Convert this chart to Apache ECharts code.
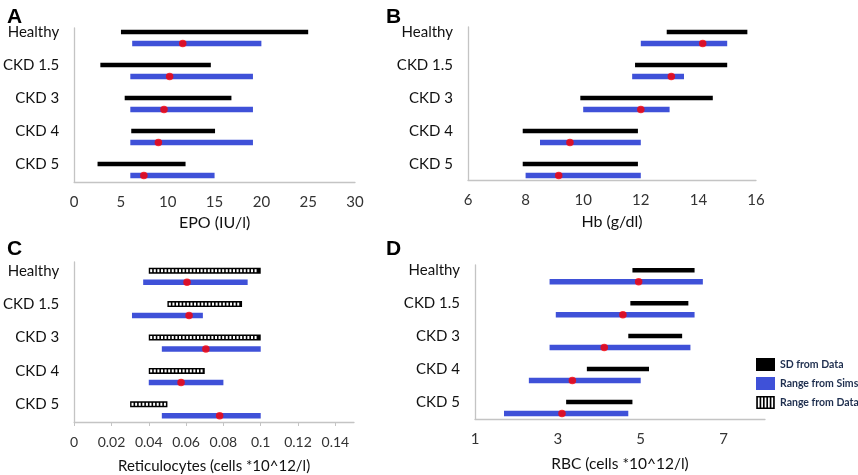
<!DOCTYPE html>
<html>
<head>
<meta charset="utf-8">
<script src="https://cdn.jsdelivr.net/npm/echarts@6/dist/echarts.min.js"></script>
<style>
  html, body { margin: 0; background: #fff; }
  #chart { width: 858px; height: 475px; }
</style>
</head>
<body>
<div id="chart"></div>
<script>
// ── Datos ─────────────────────────────────────────────
const categories = ['Healthy', 'CKD 1.5', 'CKD 3', 'CKD 4', 'CKD 5']

// A: EPO (IU/l)
const epoSdLow   = [5.0, 2.8, 5.4, 6.1, 2.5]
const epoSdHigh  = [25.0, 14.6, 16.8, 15.05, 11.9]
const epoSimLow  = [6.2, 6.0, 6.0, 6.0, 6.0]
const epoSimHigh = [20.0, 19.1, 19.1, 19.1, 15.0]
const epoMean    = [11.6, 10.2, 9.6, 9.0, 7.45]

// B: Hb (g/dl)
const hbSdLow   = [12.9, 11.8, 9.9, 7.9, 7.9]
const hbSdHigh  = [15.7, 15.0, 14.5, 11.9, 11.9]
const hbSimLow  = [12.0, 11.7, 10.0, 8.5, 8.0]
const hbSimHigh = [15.0, 13.5, 13.0, 12.0, 12.0]
const hbMean    = [14.15, 13.06, 12.0, 9.54, 9.15]

// C: Reticulocytes (cells *10^12/l)
const retDataLow = [0.040, 0.050, 0.040, 0.040, 0.030]
const retDataHigh= [0.100, 0.090, 0.100, 0.070, 0.050]
const retSimLow  = [0.037, 0.031, 0.047, 0.040, 0.047]
const retSimHigh = [0.093, 0.069, 0.100, 0.080, 0.100]
const retMean    = [0.0605, 0.0616, 0.0706, 0.0573, 0.078]
const retTicks   = [0, 0.02, 0.04, 0.06, 0.08, 0.1, 0.12, 0.14]

// D: RBC (cells *10^12/l)
const rbcSdLow   = [4.8, 4.75, 4.7, 3.7, 3.2]
const rbcSdHigh  = [6.3, 6.15, 6.0, 5.2, 4.8]
const rbcSimLow  = [2.8, 2.95, 2.8, 2.3, 1.7]
const rbcSimHigh = [6.5, 6.3, 6.2, 5.0, 4.7]
const rbcMean    = [4.95, 4.57, 4.12, 3.35, 3.1]
const rbcTicks   = [1, 3, 5, 7]

const catTicks = [0, 1, 2, 3, 4]

// ── Estilos ───────────────────────────────────────────
const FONT  = 'Lato'
const BLUE  = '#3f51d8'
const GRAYL = '#c4c4c4'
const SIM_DY = 11.5

const pairs = (lo, hi) => lo.map((v, i) => [v, hi[i], i])
const points = arr => arr.map((v, i) => [v, i])

function solidBar(h, dy) {
  return function (params, api) {
    const y = api.value(2)
    const a = api.coord([api.value(0), y])
    const b = api.coord([api.value(1), y])
    return {
      type: 'rect',
      shape: { x: a[0], y: a[1] + dy - h / 2, width: b[0] - a[0], height: h },
      style: { fill: api.visual('color') },
    }
  }
}

// Barra rayada (Range from Data): borde negro con celdas blancas
function hatchBar(params, api) {
  const y = api.value(2)
  const a = api.coord([api.value(0), y])
  const b = api.coord([api.value(1), y])
  const h = 6
  const top = a[1] - h / 2
  const children = [{
    type: 'rect',
    shape: { x: a[0], y: top, width: b[0] - a[0], height: h },
    style: { fill: '#000' },
  }]
  for (let cx = a[0] + 1.4; cx + 2 <= b[0] - 1.2; cx += 3.6) {
    children.push({ type: 'rect', shape: { x: cx, y: top + 1.5, width: 2, height: 3 }, style: { fill: '#fff' } })
  }
  return { type: 'group', children }
}

const panels = [
  { grid: { left: 68, top: 28, width: 287, height: 154 }, yMin: -0.12, yMax: 4.545,
    x: { min: 0, max: 30, interval: 5 }, name: 'EPO (IU/l)', nameGap: 33, nameSize: 16, tickSize: 15,
    top: pairs(epoSdLow, epoSdHigh), sim: pairs(epoSimLow, epoSimHigh), mean: epoMean, hatched: false },
  { grid: { left: 468, top: 27, width: 288, height: 153 }, yMin: -0.15, yMax: 4.485,
    x: { min: 6, max: 16, interval: 2 }, name: 'Hb (g/dl)', nameGap: 34, nameSize: 16, tickSize: 15,
    top: pairs(hbSdLow, hbSdHigh), sim: pairs(hbSimLow, hbSimHigh), mean: hbMean, hatched: false },
  { grid: { left: 73, top: 262, width: 281, height: 160 }, yMin: -0.26, yMax: 4.53,
    x: { min: 0, max: 0.15, ticks: retTicks, tickMarks: true }, name: 'Reticulocytes (cells *10^12/l)', nameGap: 37, nameSize: 15, tickSize: 14,
    top: pairs(retDataLow, retDataHigh), sim: pairs(retSimLow, retSimHigh), mean: retMean, hatched: true },
  { grid: { left: 475, top: 265, width: 290, height: 154 }, yMin: -0.16, yMax: 4.52,
    x: { min: 1, max: 8, ticks: rbcTicks }, name: 'RBC (cells *10^12/l)', nameGap: 37, nameSize: 15.5, tickSize: 15,
    top: pairs(rbcSdLow, rbcSdHigh), sim: pairs(rbcSimLow, rbcSimHigh), mean: rbcMean, hatched: false },
]

const grid = [], xAxis = [], yAxis = [], series = []

panels.forEach((p, i) => {
  grid.push(p.grid)

  const ax = {
    type: 'value', gridIndex: i, min: p.x.min, max: p.x.max,
    name: p.name, nameLocation: 'middle', nameGap: p.nameGap,
    nameTextStyle: { fontFamily: FONT, fontSize: p.nameSize, color: '#111' },
    axisLine: { show: true, onZero: false, lineStyle: { color: GRAYL, width: 1.3 } },
    axisTick: { show: !!p.x.tickMarks, length: 4, lineStyle: { color: GRAYL } },
    splitLine: { show: false },
    axisLabel: { fontFamily: FONT, fontSize: p.tickSize, color: '#333', margin: 13 },
  }
  if (p.x.interval) ax.interval = p.x.interval
  if (p.x.ticks) {
    ax.axisLabel.customValues = p.x.ticks
    ax.axisTick.customValues = p.x.ticks
  }
  xAxis.push(ax)

  yAxis.push({
    type: 'value', gridIndex: i, min: p.yMin, max: p.yMax, inverse: true,
    axisLine: { show: true, onZero: false, lineStyle: { color: GRAYL, width: 1.3 } },
    axisTick: { show: false },
    splitLine: { show: false },
    axisLabel: {
      customValues: catTicks, formatter: v => categories[v], margin: 15,
      fontFamily: FONT, fontSize: 15, color: '#111',
    },
  })

  if (p.hatched) {
    series.push({
      type: 'custom', name: 'Range from Data', xAxisIndex: i, yAxisIndex: i,
      itemStyle: { color: '#000' }, renderItem: hatchBar, data: p.top,
      encode: { x: [0, 1], y: 2 },
    })
  } else {
    series.push({
      type: 'custom', name: 'SD from Data', xAxisIndex: i, yAxisIndex: i,
      itemStyle: { color: '#000' }, renderItem: solidBar(4.5, 0), data: p.top,
      encode: { x: [0, 1], y: 2 },
    })
  }
  series.push({
    type: 'custom', name: 'Range from Sims', xAxisIndex: i, yAxisIndex: i,
    itemStyle: { color: BLUE }, renderItem: solidBar(5.5, SIM_DY), data: p.sim,
    encode: { x: [0, 1], y: 2 },
  })
  series.push({
    type: 'scatter', name: 'mean', xAxisIndex: i, yAxisIndex: i,
    symbolSize: 7.5, symbolOffset: [0, SIM_DY], z: 5,
    itemStyle: { color: '#ff0000' }, data: points(p.mean),
  })
})

const hatchIcon = 'path://M0,0H20V1.6H0Z M0,12.4H20V14H0Z M0,0H1.8V14H0Z M3.64,0H5.44V14H3.64Z M7.28,0H9.08V14H7.28Z M10.92,0H12.72V14H10.92Z M14.56,0H16.36V14H14.56Z M18.2,0H20V14H18.2Z'

const letter = (text, left, top) => ({
  text, left, top,
  textStyle: { fontFamily: 'Liberation Sans', fontSize: 21, fontWeight: 'bold', color: '#000' },
})

const option = {
  animation: false,
  title: [letter('A', 2, 2), letter('B', 381, 2), letter('C', 2, 234), letter('D', 381, 234)],
  legend: {
    orient: 'vertical', left: 756, top: 358, padding: 0,
    itemWidth: 19, itemHeight: 13, itemGap: 6,
    textStyle: { fontFamily: FONT, fontSize: 10.5, fontWeight: 'bold', color: '#1f2f4f' },
    data: [
      { name: 'SD from Data', icon: 'rect' },
      { name: 'Range from Sims', icon: 'rect' },
      { name: 'Range from Data', icon: hatchIcon },
    ],
  },
  grid, xAxis, yAxis, series,
}

const chart = echarts.init(document.getElementById('chart'), null, { renderer: 'canvas' })
chart.setOption(option)
</script>
</body>
</html>
